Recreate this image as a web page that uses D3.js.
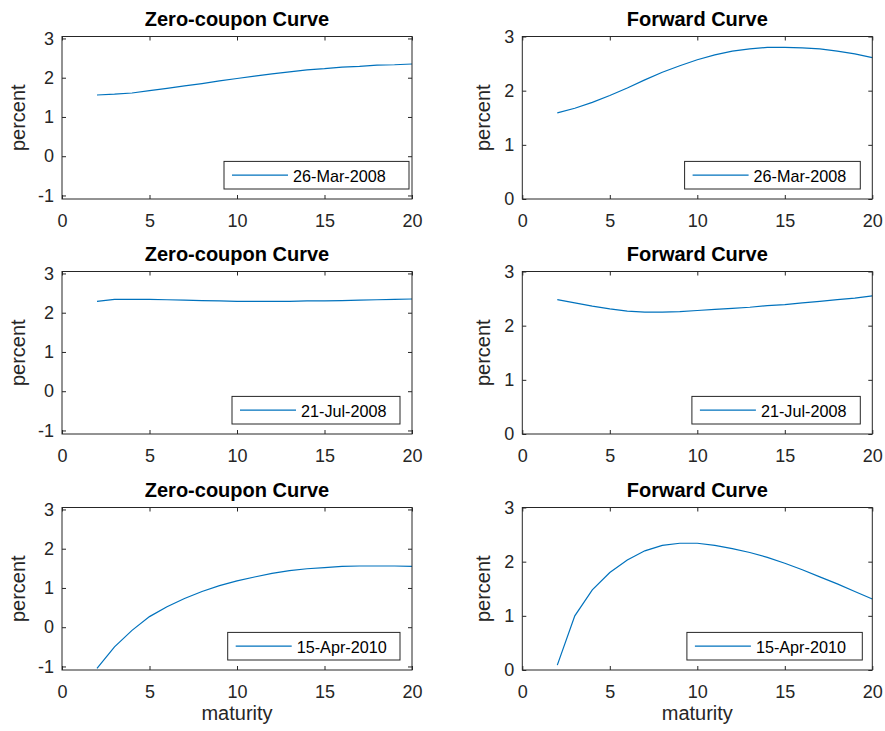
<!DOCTYPE html>
<html>
<head>
<meta charset="utf-8">
<script src="https://cdn.jsdelivr.net/npm/d3@7"></script>
<style>
  body { margin: 0; background: #fff; }
  text { font-family: "Liberation Sans", Arial, Helvetica, sans-serif; }
</style>
</head>
<body>
<div id="chart"></div>
<script>
// maturities in years
var maturity = [2, 3, 4, 5, 6, 7, 8, 9, 10, 11, 12, 13, 14, 15, 16, 17, 18, 19, 20];
var dates = ["26-Mar-2008", "21-Jul-2008", "15-Apr-2010"];

// zero-coupon curves (percent)
var zero2008Mar = [1.56, 1.58, 1.61, 1.67, 1.73, 1.79, 1.85, 1.92, 1.98, 2.04, 2.10, 2.15, 2.20, 2.23, 2.27, 2.29, 2.32, 2.33, 2.35];
var zero2008Jul = [2.29, 2.34, 2.34, 2.34, 2.33, 2.32, 2.31, 2.30, 2.29, 2.29, 2.29, 2.29, 2.30, 2.30, 2.31, 2.32, 2.33, 2.34, 2.35];
var zero2010Apr = [-1.05, -0.50, -0.08, 0.27, 0.52, 0.73, 0.91, 1.06, 1.18, 1.28, 1.37, 1.44, 1.49, 1.52, 1.55, 1.56, 1.56, 1.56, 1.55];

// forward curves (percent)
var fwd2008Mar = [1.59, 1.675, 1.785, 1.91, 2.05, 2.20, 2.34, 2.46, 2.57, 2.66, 2.73, 2.77, 2.80, 2.80, 2.79, 2.77, 2.73, 2.68, 2.61];
var fwd2008Jul = [2.48, 2.42, 2.36, 2.31, 2.27, 2.25, 2.25, 2.26, 2.28, 2.30, 2.32, 2.34, 2.37, 2.39, 2.42, 2.45, 2.48, 2.51, 2.55];
var fwd2010Apr = [0.09, 1.00, 1.48, 1.80, 2.03, 2.20, 2.30, 2.34, 2.34, 2.30, 2.24, 2.17, 2.08, 1.97, 1.85, 1.72, 1.59, 1.45, 1.31];

var xTicks = [0, 5, 10, 15, 20];
var zeroTicks = [-1, 0, 1, 2, 3];
var fwdTicks = [0, 1, 2, 3];

var zeroSeries = [zero2008Mar, zero2008Jul, zero2010Apr];
var fwdSeries = [fwd2008Mar, fwd2008Jul, fwd2010Apr];

var width = 885, height = 731;
var rowTop = [36.5, 271.5, 507.5];
var colLeft = [62, 522.3];
var axW = 350, axH = 162.5;
var blue = "#0072BD", axisColor = "#262626";

// legend box layout [width, gap from right edge]
var legendLayout = [
  [[185, 3], [175.7, 12]],
  [[168, 12], [168.4, 12]],
  [[172.3, 12], [175.4, 10]]
];

var svg = d3.select("#chart")
  .append("svg")
  .attr("width", width)
  .attr("height", height);

// plain hyphen minus like the original
var fmt = function(d) { return String(d); };

function panel(row, col) {
  var isZero = col == 0;
  var values = isZero ? zeroSeries[row] : fwdSeries[row];
  var yTicks = isZero ? zeroTicks : fwdTicks;

  var g = svg.append("g")
    .attr("transform", "translate(" + colLeft[col] + "," + rowTop[row] + ")");

  var x = d3.scaleLinear().domain([0, 20]).range([0, axW]);
  var y = d3.scaleLinear()
    .domain(isZero ? [-1.09, 3.05] : [0, 3])
    .range([axH, 0]);

  // axes with inward ticks
  g.append("g")
    .attr("transform", "translate(0," + axH + ")")
    .call(d3.axisBottom(x).tickValues(xTicks).tickFormat(fmt).tickSizeInner(-4).tickSizeOuter(0).tickPadding(15));
  g.append("g")
    .call(d3.axisLeft(y).tickValues(yTicks).tickFormat(fmt).tickSizeInner(-4).tickSizeOuter(0).tickPadding(8));
  g.append("g")
    .call(d3.axisTop(x).tickValues(xTicks).tickSizeInner(-4).tickSizeOuter(0).tickFormat(""));
  g.append("g")
    .attr("transform", "translate(" + axW + ",0)")
    .call(d3.axisRight(y).tickValues(yTicks).tickSizeInner(-4).tickSizeOuter(0).tickFormat(""));

  g.selectAll(".domain").remove();
  g.selectAll(".tick line").attr("stroke", axisColor);
  g.selectAll(".tick text")
    .attr("fill", axisColor)
    .style("font-size", "18px");

  // the line
  g.append("path")
    .datum(values)
    .attr("fill", "none")
    .attr("stroke", blue)
    .attr("stroke-width", 1.2)
    .attr("d", d3.line()
      .x(function(d, i) { return x(maturity[i]); })
      .y(function(d) { return y(d); })
    );

  // box
  g.append("rect")
    .attr("x", 0).attr("y", 0)
    .attr("width", axW).attr("height", axH)
    .attr("fill", "none")
    .attr("stroke", axisColor)
    .attr("stroke-width", 1);

  // title
  g.append("text")
    .attr("x", axW / 2)
    .attr("y", -10.5)
    .attr("text-anchor", "middle")
    .style("font-size", "20px")
    .style("font-weight", "bold")
    .attr("fill", "#000")
    .text(isZero ? "Zero-coupon Curve" : "Forward Curve");

  // y label
  g.append("text")
    .attr("transform", "translate(" + (isZero ? -37 : -32) + "," + (axH / 2) + ") rotate(-90)")
    .attr("text-anchor", "middle")
    .style("font-size", "20px")
    .attr("fill", axisColor)
    .text("percent");

  // x label on last row
  if (row == 2) {
    g.append("text")
      .attr("x", axW / 2)
      .attr("y", axH + 50)
      .attr("text-anchor", "middle")
      .style("font-size", "20px")
      .attr("fill", axisColor)
      .text("maturity");
  }

  // legend
  var lw = legendLayout[row][col][0], gap = legendLayout[row][col][1];
  var lh = 27.6;
  var leg = g.append("g")
    .attr("transform", "translate(" + (axW - gap - lw) + "," + (axH - 10 - lh) + ")");
  leg.append("rect")
    .attr("width", lw).attr("height", lh)
    .attr("fill", "#fff")
    .attr("stroke", axisColor)
    .attr("stroke-width", 1);
  leg.append("line")
    .attr("x1", 8).attr("x2", 64)
    .attr("y1", lh / 2).attr("y2", lh / 2)
    .attr("stroke", blue)
    .attr("stroke-width", 1.2);
  leg.append("text")
    .attr("x", 69)
    .attr("y", lh / 2 + 6.5)
    .style("font-size", "16.2px")
    .attr("fill", "#000")
    .text(dates[row]);
}

for (var r = 0; r < 3; r++) {
  panel(r, 0);
  panel(r, 1);
}
</script>
</body>
</html>
